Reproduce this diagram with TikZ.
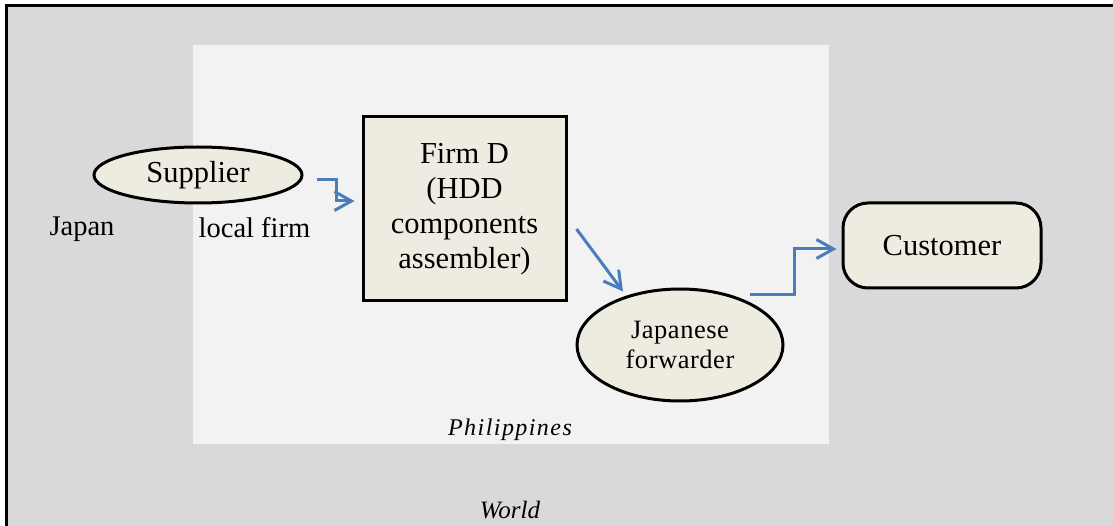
\documentclass[tikz,border=0pt]{standalone}
\usepackage{fontspec}
\setmainfont{Liberation Serif}
\newfontfamily\spaced[LetterSpace=6]{Liberation Serif}
\newfontfamily\slight[LetterSpace=2]{Liberation Serif}
\usetikzlibrary{arrows.meta,shapes.geometric,calc}
\definecolor{worldgray}{HTML}{D9D9D9}
\definecolor{phlight}{HTML}{F2F2F2}
\definecolor{nodefill}{HTML}{EEECE1}
\definecolor{arrowblue}{HTML}{4A7EBB}
\tikzset{
  box/.style={draw=black, line width=3pt, fill=nodefill, inner sep=0pt, align=center,
    font=\fontsize{30.5}{35}\selectfont},
  ell/.style={box, ellipse},
  lbl/.style={inner sep=0pt, font=\fontsize{28.5}{33}\selectfont},
  region/.style={inner sep=0pt, font=\fontsize{25}{30}\selectfont\itshape},
  arr/.style={draw=arrowblue, line width=3pt,
    -{Straight Barb[length=17pt,width=19pt,line width=3pt]}},
}
\begin{document}
\begin{tikzpicture}[x=1pt,y=-1pt]
\useasboundingbox (0,0) rectangle (1113,526);
% World frame
\fill[worldgray] (6,6) rectangle (1113,526);
\draw[line width=3pt] (6,526) -- (6,6) -- (1113,6);
% Philippines area
\fill[phlight] (193,45) rectangle (829,444);
% nodes
\node[ell, minimum width=208pt, minimum height=56pt] (sup) at (198,175) {Supplier};
\node[box, minimum width=203pt, minimum height=184pt] (firm) at (464.5,209)
  {Firm D\\(HDD\\components\\assembler)};
\node[ell, minimum width=206pt, minimum height=112pt,
  font=\fontsize{26.5}{30}\selectfont\slight] (fwd) at (680,345) {Japanese\\forwarder};
\node[box, rounded corners=25pt, minimum width=198pt, minimum height=85pt] (cust)
  at (942,245.5) {Customer};
% labels
\node[lbl] (japan) at (82,229) {Japan};
\node[lbl] (local) at (254.5,228) {local firm};
\node[region, font=\fontsize{24}{28}\selectfont\itshape\spaced] (ph) at (510,430) {Philippines};
\node[region] (world) at (510,510) {World};
% connectors
\draw[arr] ([shift={(13,5)}]sup.east) -- ++(20,0) |- ([shift={(-7,-8)}]firm.west);
\draw[arr] ([shift={(9,20)}]firm.east) -- ([shift={(-57,4)}]fwd.north);
\draw[arr] ([shift={(70,7)}]fwd.north) -- ++(44,0) |- ([shift={(-5,3.5)}]cust.west);
\end{tikzpicture}
\end{document}
